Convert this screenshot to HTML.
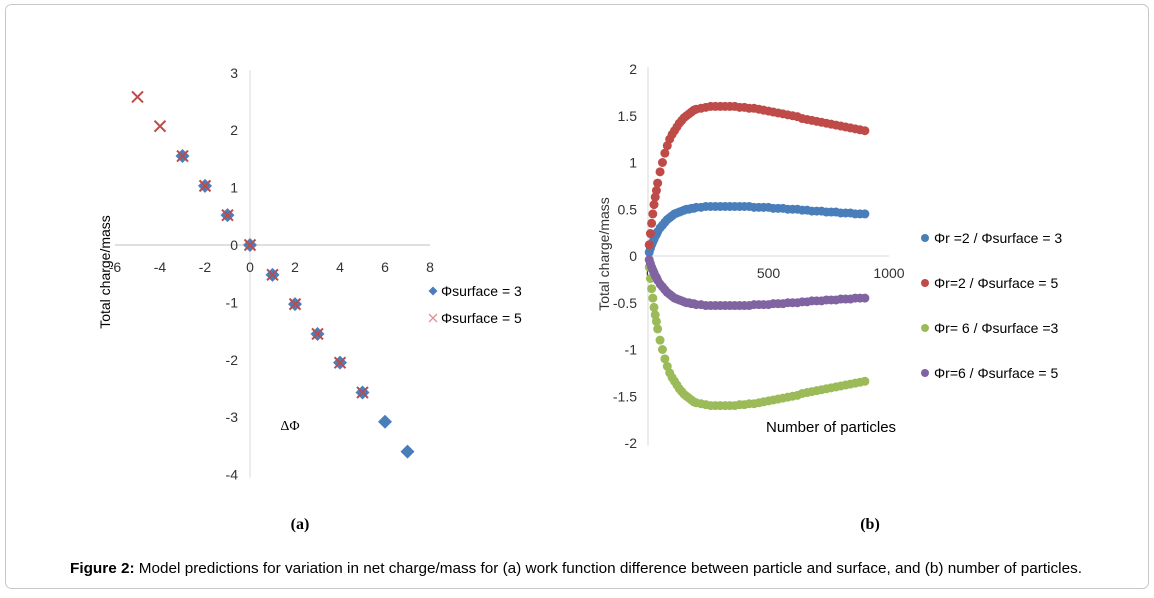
<!DOCTYPE html>
<html><head><meta charset="utf-8"><style>
html,body{margin:0;padding:0;background:#fff;}
body{width:1154px;height:593px;overflow:hidden;position:relative;font-family:"Liberation Sans",sans-serif;}
</style></head><body>
<svg width="1154" height="593" viewBox="0 0 1154 593" font-family="Liberation Sans, sans-serif">
<rect x="5.5" y="4.5" width="1143" height="584" rx="6" fill="#fff" stroke="#c8c8c8"/>
<g id="left"></g>
<g id="right"></g>
<text x="300" y="529" style="font-family:'Liberation Serif',serif" font-weight="bold" font-size="16" text-anchor="middle">(a)</text>
<text x="870" y="529" style="font-family:'Liberation Serif',serif" font-weight="bold" font-size="16" text-anchor="middle">(b)</text>
<text x="70" y="573" font-size="15" textLength="1012" lengthAdjust="spacingAndGlyphs"><tspan font-weight="bold">Figure 2:</tspan> Model predictions for variation in net charge/mass for (a) work function difference between particle and surface, and (b) number of particles.</text>
</svg>
<script>
// Chart (a) data
const aBlueX=[-3,-2,-1,0,1,2,3,4,5,6,7];
const aBlueY=[1.55,1.03,0.52,0,-0.52,-1.03,-1.55,-2.05,-2.57,-3.08,-3.6];
const aRedX=[-5,-4,-3,-2,-1,0,1,2,3,4,5];
const aRedY=[2.58,2.07,1.55,1.03,0.52,0,-0.52,-1.03,-1.55,-2.05,-2.57];
const aXTicks=[-6,-4,-2,0,2,4,6,8];
const aYTicks=[3,2,1,0,-1,-2,-3,-4];
// Chart (b) data
const bN=[5,10,15,20,25,30,35,40,50,60,70,80,90,100,110,120,130,140,150,160,170,180,190,200,220,240,260,280,300,320,340,360,380,400,420,440,460,480,500,520,540,560,580,600,620,640,660,680,700,720,740,760,780,800,820,840,860,880,900];
const bRed=[0.12,0.24,0.35,0.45,0.55,0.63,0.7,0.78,0.9,1.0,1.1,1.18,1.25,1.3,1.34,1.38,1.42,1.45,1.48,1.5,1.52,1.54,1.56,1.57,1.58,1.59,1.6,1.6,1.6,1.6,1.6,1.6,1.59,1.59,1.58,1.58,1.57,1.56,1.55,1.54,1.53,1.52,1.51,1.5,1.49,1.47,1.46,1.45,1.44,1.43,1.42,1.41,1.4,1.39,1.38,1.37,1.36,1.35,1.34];
const bBlue=[0.04,0.08,0.12,0.15,0.18,0.21,0.23,0.26,0.3,0.33,0.36,0.39,0.41,0.43,0.45,0.46,0.47,0.48,0.49,0.5,0.5,0.51,0.51,0.52,0.52,0.53,0.53,0.53,0.53,0.53,0.53,0.53,0.53,0.53,0.53,0.52,0.52,0.52,0.52,0.51,0.51,0.51,0.5,0.5,0.5,0.49,0.49,0.48,0.48,0.48,0.47,0.47,0.47,0.46,0.46,0.46,0.45,0.45,0.45];
const bGreen=[-0.12,-0.24,-0.35,-0.45,-0.55,-0.63,-0.7,-0.78,-0.9,-1.0,-1.1,-1.18,-1.25,-1.3,-1.34,-1.38,-1.42,-1.45,-1.48,-1.5,-1.52,-1.54,-1.56,-1.57,-1.58,-1.59,-1.6,-1.6,-1.6,-1.6,-1.6,-1.6,-1.59,-1.59,-1.58,-1.58,-1.57,-1.56,-1.55,-1.54,-1.53,-1.52,-1.51,-1.5,-1.49,-1.47,-1.46,-1.45,-1.44,-1.43,-1.42,-1.41,-1.4,-1.39,-1.38,-1.37,-1.36,-1.35,-1.34];
const bPurple=[-0.04,-0.08,-0.12,-0.15,-0.18,-0.21,-0.23,-0.26,-0.3,-0.33,-0.36,-0.39,-0.41,-0.43,-0.45,-0.46,-0.47,-0.48,-0.49,-0.5,-0.5,-0.51,-0.51,-0.52,-0.52,-0.53,-0.53,-0.53,-0.53,-0.53,-0.53,-0.53,-0.53,-0.53,-0.53,-0.52,-0.52,-0.52,-0.52,-0.51,-0.51,-0.51,-0.5,-0.5,-0.5,-0.49,-0.49,-0.48,-0.48,-0.48,-0.47,-0.47,-0.47,-0.46,-0.46,-0.46,-0.45,-0.45,-0.45];
const bXTicks=[0,500,1000];
const bYTicks=[2,1.5,1,0.5,0,-0.5,-1,-1.5,-2];

const NS='http://www.w3.org/2000/svg';
function mk(parent,tag,attrs,text){const e=document.createElementNS(NS,tag);for(const k in attrs)e.setAttribute(k,attrs[k]);if(text!==undefined)e.textContent=text;parent.appendChild(e);return e;}

// ---- Chart (a)
const L=document.getElementById('left');
const ax=v=>250+v*22.5, ay=v=>245-v*57.4;
let e;
e=mk(L,'line',{x1:ax(-6),x2:ax(8),y1:ay(0),y2:ay(0),stroke:'#bfbfbf'});

e=mk(L,'line',{x1:ax(0),x2:ax(0),y1:ay(3.05),y2:ay(-4.05),stroke:'#d9d9d9'});

aXTicks.forEach(t=>{e=mk(L,'text',{x:ax(t),y:ay(0)+27,'font-size':14,fill:'#333','text-anchor':'middle'},String(t));
});
aYTicks.forEach(t=>{e=mk(L,'text',{x:ax(0)-12,y:ay(t)+5,'font-size':14,fill:'#333','text-anchor':'end'},String(t));
});
e=mk(L,'text',{x:0,y:0,'font-size':14,fill:'#000',transform:'translate(110,272) rotate(-90)','text-anchor':'middle'},'Total charge/mass');

e=mk(L,'text',{x:290,y:430,'font-size':14,fill:'#000',style:"font-family:'Liberation Serif',serif",'text-anchor':'middle'},'ΔΦ');

function diamond(p,x,y,s,c){return mk(p,'path',{d:`M${x} ${y-s}L${x+s} ${y}L${x} ${y+s}L${x-s} ${y}Z`,fill:c});}
function cross(p,x,y,s,c,w){return mk(p,'path',{d:`M${x-s} ${y-s}L${x+s} ${y+s}M${x-s} ${y+s}L${x+s} ${y-s}`,stroke:c,'stroke-width':w||1.6,fill:'none'});}
aBlueX.forEach((v,i)=>{e=diamond(L,ax(v),ay(aBlueY[i]),7,'#4a7ebb');
});
aRedX.forEach((v,i)=>{e=cross(L,ax(v),ay(aRedY[i]),5.5,'#be4b48',2);
});
e=diamond(L,433,291,4.5,'#4a7ebb');
e=mk(L,'text',{x:441,y:296,'font-size':14,fill:'#000'},'Φsurface  = 3');
e=cross(L,433,318,4,'#d99594',1.3);
e=mk(L,'text',{x:441,y:323,'font-size':14,fill:'#000'},'Φsurface  = 5');

// ---- Chart (b)
const R=document.getElementById('right');
const bx=v=>648+v*0.241, by=v=>256-v*93.5;
e=mk(R,'line',{x1:bx(0),x2:bx(1000),y1:by(0),y2:by(0),stroke:'#d9d9d9'});

e=mk(R,'line',{x1:bx(0),x2:bx(0),y1:by(2.02),y2:by(-2.03),stroke:'#d9d9d9'});

bXTicks.forEach(t=>{e=mk(R,'text',{x:bx(t)+(t===0?2:0),y:by(0)+22,'font-size':14,fill:'#333','text-anchor':'middle'},String(t));
});
bYTicks.forEach(t=>{e=mk(R,'text',{x:bx(0)-11,y:by(t)+5,'font-size':14,fill:'#333','text-anchor':'end'},String(t));
});
e=mk(R,'text',{x:0,y:0,'font-size':14,fill:'#333',transform:'translate(609,254) rotate(-90)','text-anchor':'middle'},'Total charge/mass');

e=mk(R,'text',{x:766,y:432,'font-size':15,fill:'#000'},'Number of particles');

const series=[[bBlue,'#4a7ebb','blue'],[bRed,'#be4b48','red'],[bGreen,'#9bbb59','green'],[bPurple,'#8064a2','purple']];
series.forEach(([vals,c,n])=>{vals.forEach((v,i)=>{e=mk(R,'circle',{cx:bx(bN[i]),cy:by(v),r:4.5,fill:c});
});});
const leg=['Φr =2 / Φsurface  = 3','Φr=2 / Φsurface  = 5','Φr= 6 / Φsurface  =3','Φr=6 / Φsurface  = 5'];
leg.forEach((t,i)=>{const y=238+i*45;
e=mk(R,'circle',{cx:925,cy:y,r:4,fill:series[i][1]});
e=mk(R,'text',{x:934,y:y+5,'font-size':14,fill:'#000'},t);});
</script>
</body></html>
